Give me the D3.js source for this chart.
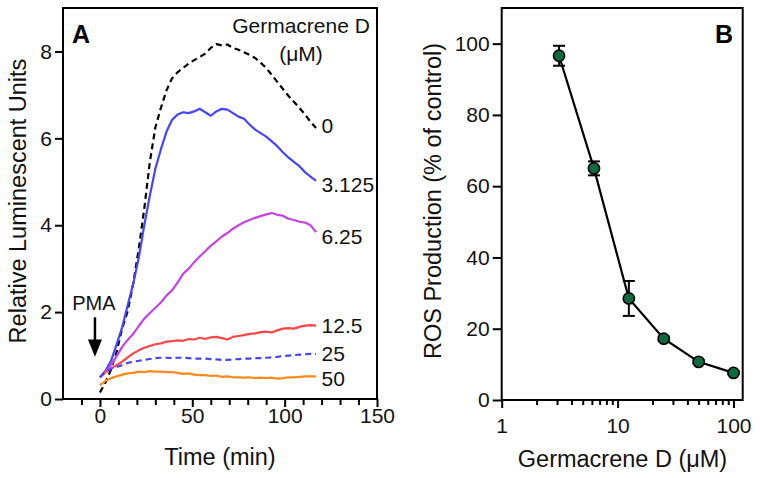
<!DOCTYPE html>
<html><head><meta charset="utf-8">
<script src="https://cdn.jsdelivr.net/npm/d3@7"></script>
<style>
html,body{margin:0;padding:0;background:#fff;}
svg{display:block;font-family:"Liberation Sans",Arial,Helvetica,sans-serif;}
</style></head>
<body>
<svg id="chart" width="760" height="478"></svg>
<script>
// ---------- Panel A data ----------
const times = [0,3,6,9,12,15,18,21,24,27,30,33,36,39,42,45,48,51,54,57,60,63,66,69,72,75,78,81,84,87,90,93,96,99,102,105,108,111,114,117];
const conc0 = [0.15,0.38,0.68,1.08,1.62,2.02,2.65,3.45,4.38,5.45,6.25,6.7,7.1,7.38,7.52,7.62,7.72,7.8,7.87,7.95,8.08,8.17,8.14,8.16,8.08,8.04,7.98,7.92,7.85,7.74,7.62,7.46,7.3,7.14,6.98,6.84,6.7,6.55,6.38,6.24];
const conc3125 = [0.5,0.65,0.88,1.25,1.65,2.15,2.65,3.25,4.0,4.68,5.3,5.75,6.15,6.42,6.55,6.6,6.58,6.62,6.68,6.6,6.52,6.62,6.68,6.66,6.58,6.5,6.45,6.32,6.2,6.12,6.04,5.93,5.82,5.68,5.56,5.46,5.36,5.22,5.12,5.02];
const conc625 = [0.5,0.63,0.78,0.98,1.2,1.36,1.5,1.68,1.85,1.98,2.1,2.22,2.38,2.5,2.68,2.88,3.0,3.15,3.28,3.4,3.53,3.63,3.74,3.82,3.92,4.0,4.07,4.12,4.17,4.21,4.25,4.28,4.24,4.22,4.15,4.12,4.08,4.06,4.0,3.84];
const conc125 = [0.5,0.62,0.7,0.78,0.86,0.96,1.05,1.12,1.18,1.22,1.26,1.28,1.32,1.33,1.35,1.34,1.38,1.37,1.41,1.38,1.42,1.43,1.4,1.37,1.43,1.45,1.47,1.5,1.51,1.54,1.55,1.53,1.58,1.62,1.63,1.62,1.66,1.69,1.7,1.69];
const conc25 = [0.5,0.62,0.7,0.74,0.78,0.83,0.86,0.88,0.9,0.92,0.94,0.95,0.95,0.94,0.95,0.95,0.94,0.93,0.93,0.93,0.92,0.91,0.9,0.9,0.91,0.92,0.93,0.93,0.94,0.94,0.95,0.96,0.97,0.99,1.0,1.01,1.02,1.03,1.04,1.04];
const conc50 = [0.32,0.42,0.48,0.52,0.56,0.59,0.6,0.63,0.62,0.64,0.63,0.63,0.62,0.62,0.6,0.58,0.59,0.56,0.55,0.55,0.53,0.54,0.51,0.52,0.5,0.5,0.49,0.5,0.48,0.49,0.48,0.49,0.47,0.48,0.5,0.5,0.51,0.52,0.52,0.52];
const seriesLabels = ["0","3.125","6.25","12.5","25","50"];
const seriesValues = [conc0,conc3125,conc625,conc125,conc25,conc50];
const seriesColors = ["#000000","#4545ff","#c444ea","#ff4545","#4545ff","#ff8a1c"];
const seriesDash = ["6,4",null,null,null,"6,4",null];
const labelValues = [6.3,4.95,3.75,1.7,1.05,0.48];
const xTicksA = [0,50,100,150];
const xMinorA = [-10,10,20,30,40,60,70,80,90,110,120,130,140];
const yTicksA = [0,2,4,6,8];

// ---------- Panel B data ----------
const concB = [3.125,6.25,12.5,25,50,100];
const rosB = [96.6,65.0,28.5,17.2,10.7,7.6];
const errB = [2.8,1.95,4.9,0.6,0.5,0.4];
const xTicksB = [1,10,100];
const xMinorB = [2,3,4,5,6,7,8,9,20,30,40,50,60,70,80,90];
const yTicksB = [0,20,40,60,80,100];

const svg = d3.select("#chart");
const tickFont = 21, titleFont = 23.5;

// ---------- Panel A ----------
const xA = d3.scaleLinear().domain([-20,150]).range([63,377]);
const yA = d3.scaleLinear().domain([0,9]).range([399,8]);
const gA = svg.append("g");

const lineA = d3.line().x((d,i)=>xA(times[i])).y(d=>yA(d));
seriesValues.forEach((vals,k)=>{
  gA.append("path").attr("d",lineA(vals)).attr("fill","none")
    .attr("stroke",seriesColors[k]).attr("stroke-width",2.2)
    .attr("stroke-dasharray",seriesDash[k]).attr("stroke-linejoin","round");
  gA.append("text").attr("x",xA(120)).attr("y",yA(labelValues[k])).attr("dy","0.36em")
    .attr("font-size",tickFont).attr("fill","#111").text(seriesLabels[k]);
});

const axAx = gA.append("g").attr("transform",`translate(0,${yA(0)})`)
  .call(d3.axisBottom(xA).tickValues(xTicksA).tickSize(8).tickPadding(1).tickFormat(d3.format("d")));
const axAxm = gA.append("g").attr("transform",`translate(0,${yA(0)})`)
  .call(d3.axisBottom(xA).tickValues(xMinorA).tickSize(6).tickFormat(""));
const axAy = gA.append("g").attr("transform",`translate(${xA(-20)},0)`)
  .call(d3.axisLeft(yA).tickValues(yTicksA).tickSize(8).tickPadding(3));
[axAx,axAxm,axAy].forEach(a=>{
  a.select(".domain").remove();
  a.selectAll("line").attr("stroke","#000").attr("stroke-width",2);
  a.selectAll("text").attr("font-size",tickFont).attr("fill","#111").attr("font-family",null);
});
gA.append("rect").attr("x",xA(-20)).attr("y",yA(9)).attr("width",xA(150)-xA(-20)).attr("height",yA(0)-yA(9))
  .attr("fill","none").attr("stroke","#000").attr("stroke-width",2);

gA.append("text").attr("x",xA(65)).attr("y",465).attr("text-anchor","middle")
  .attr("font-size",titleFont).attr("fill","#111").text("Time (min)");
gA.append("text").attr("transform",`translate(26,201) rotate(-90)`).attr("text-anchor","middle")
  .attr("font-size",titleFont).attr("fill","#111").text("Relative Luminescent Units");
gA.append("text").attr("x",72).attr("y",43).attr("font-size",25).attr("font-weight","bold").text("A");
gA.append("text").attr("x",301).attr("y",33).attr("text-anchor","middle").attr("font-size",tickFont).attr("fill","#111").text("Germacrene D");
gA.append("text").attr("x",301).attr("y",61).attr("text-anchor","middle").attr("font-size",tickFont).attr("fill","#111").text("(\u03bcM)");

gA.append("text").attr("x",xA(-3.3)).attr("y",310).attr("text-anchor","middle").attr("font-size",20).attr("fill","#111").text("PMA");
gA.append("line").attr("x1",xA(-2.7)).attr("x2",xA(-2.7)).attr("y1",yA(1.88)).attr("y2",yA(1.3))
  .attr("stroke","#000").attr("stroke-width",2.5);
gA.append("path").attr("fill","#000")
  .attr("d",`M${xA(-2.7)-7},${yA(1.37)}L${xA(-2.7)+7},${yA(1.37)}L${xA(-2.7)},${yA(0.97)}Z`);

// ---------- Panel B ----------
const xB = d3.scaleLog().domain([1,120]).range([501.7,742.7]);
const yB = d3.scaleLinear().domain([0,110]).range([400,8]);
const gB = svg.append("g");

const axBx = gB.append("g").attr("transform",`translate(0,${yB(0)})`)
  .call(d3.axisBottom(xB).tickValues(xTicksB).tickSize(8).tickPadding(10).tickFormat(d3.format("d")));
const axBxm = gB.append("g").attr("transform",`translate(0,${yB(0)})`)
  .call(d3.axisBottom(xB).tickValues(xMinorB).tickSize(5).tickFormat(""));
const axBy = gB.append("g").attr("transform",`translate(${xB(1)},0)`)
  .call(d3.axisLeft(yB).tickValues(yTicksB).tickSize(9).tickPadding(3));
[axBx,axBxm,axBy].forEach(a=>{
  a.select(".domain").remove();
  a.selectAll("line").attr("stroke","#000").attr("stroke-width",2);
  a.selectAll("text").attr("font-size",tickFont).attr("fill","#111").attr("font-family",null);
});
gB.append("rect").attr("x",xB(1)).attr("y",yB(110)).attr("width",xB(120)-xB(1)).attr("height",yB(0)-yB(110))
  .attr("fill","none").attr("stroke","#000").attr("stroke-width",2);

const lineB = d3.line().x((d,i)=>xB(concB[i])).y(d=>yB(d));
gB.append("path").attr("d",lineB(rosB)).attr("fill","none").attr("stroke","#000").attr("stroke-width",2.2);

concB.forEach((c,i)=>{
  const cx = xB(c), t = yB(rosB[i]+errB[i]), b = yB(rosB[i]-errB[i]);
  const g = gB.append("g").attr("stroke","#000").attr("stroke-width",2);
  g.append("line").attr("x1",cx).attr("x2",cx).attr("y1",t).attr("y2",b);
  g.append("line").attr("x1",cx-6).attr("x2",cx+6).attr("y1",t).attr("y2",t);
  g.append("line").attr("x1",cx-6).attr("x2",cx+6).attr("y1",b).attr("y2",b);
});
gB.selectAll("circle.pt").data(rosB).enter().append("circle")
  .attr("cx",(d,i)=>xB(concB[i])).attr("cy",d=>yB(d)).attr("r",5.6)
  .attr("fill","#0e6b3f").attr("stroke","#000").attr("stroke-width",1.6);

gB.append("text").attr("x",622.5).attr("y",467).attr("text-anchor","middle")
  .attr("font-size",titleFont).attr("fill","#111").text("Germacrene D (\u03bcM)");
gB.append("text").attr("transform",`translate(441,201) rotate(-90)`).attr("text-anchor","middle")
  .attr("font-size",titleFont).attr("fill","#111").text("ROS Production (% of control)");
gB.append("text").attr("x",733).attr("y",43).attr("text-anchor","end").attr("font-size",25).attr("font-weight","bold").text("B");
</script>
</body></html>
